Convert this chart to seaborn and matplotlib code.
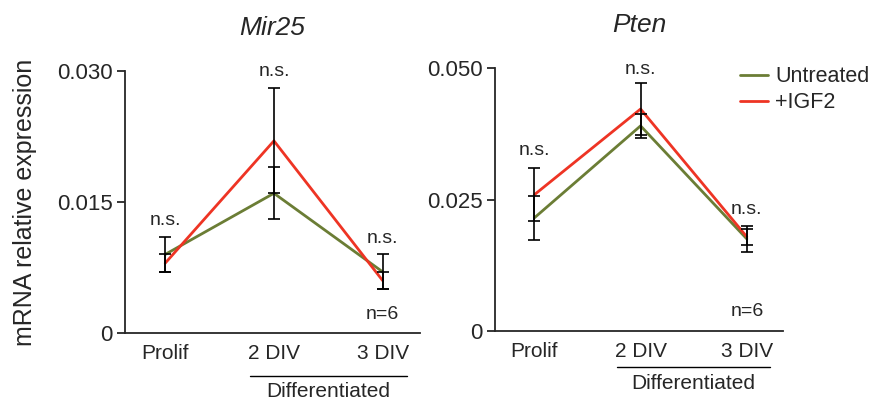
import matplotlib
matplotlib.use('Agg')
import matplotlib.pyplot as plt
import seaborn as sns
import numpy as np
import pandas as pd
from matplotlib.lines import Line2D

# data
stages = ['Prolif', '2 DIV', '3 DIV']
groups = ['Untreated', '+IGF2']

mir25_untreated = [0.0090, 0.0160, 0.0070]
mir25_untreated_err = [0.0020, 0.0030, 0.0020]
mir25_igf2 = [0.0080, 0.0220, 0.0060]
mir25_igf2_err = [0.0010, 0.0060, 0.0010]

pten_untreated = [0.0215, 0.0390, 0.0175]
pten_untreated_err = [0.0042, 0.0023, 0.0024]
pten_igf2 = [0.0259, 0.0422, 0.0179]
pten_igf2_err = [0.0050, 0.0049, 0.0015]

mir25_ticks = [0, 0.015, 0.030]
mir25_ticklabels = ['0', '0.015', '0.030']
pten_ticks = [0, 0.025, 0.050]
pten_ticklabels = ['0', '0.025', '0.050']

colors = {'Untreated': '#6b7d35', '+IGF2': '#ee3424'}

sns.set_style('ticks')
plt.rcParams['font.family'] = ['Liberation Sans', 'DejaVu Sans']
plt.rcParams['axes.linewidth'] = 1.3


def to_long(untreated, untreated_err, igf2, igf2_err):
    rows = []
    for i, st in enumerate(stages):
        rows.append({'pos': i, 'stage': st, 'group': 'Untreated',
                     'value': untreated[i], 'err': untreated_err[i]})
        rows.append({'pos': i, 'stage': st, 'group': '+IGF2',
                     'value': igf2[i], 'err': igf2_err[i]})
    return pd.DataFrame(rows)


def draw_panel(ax, df, title, ticks, ticklabels, ymax, ns_offsets):
    sns.lineplot(data=df, x='pos', y='value', hue='group', hue_order=groups,
                 palette=colors, linewidth=2.0, legend=False, ax=ax, zorder=2)
    for g in groups:
        sub = df[df['group'] == g]
        ax.errorbar(sub['pos'], sub['value'], yerr=sub['err'], fmt='none',
                    ecolor='black', elinewidth=1.2, capsize=4, capthick=1.2, zorder=3)

    # n.s. above the highest cap at each stage
    tops = df.assign(top=df['value'] + df['err']).groupby('pos')['top'].max()
    for pos, top in tops.items():
        ax.annotate('n.s.', (pos, top), xytext=(0, ns_offsets[pos]),
                    textcoords='offset points', ha='center', va='bottom', fontsize=14)

    ax.set_xlim(-0.37, 2.34)
    ax.set_ylim(0, ymax)
    ax.set_yticks(ticks)
    ax.set_yticklabels(ticklabels, fontsize=16)
    ax.set_xticks(range(len(stages)))
    ax.set_xticklabels(stages, fontsize=15)
    ax.tick_params(axis='x', length=0, pad=8)
    ax.tick_params(axis='y', length=6, width=1.3, pad=3)
    ax.set_xlabel('')
    ax.set_ylabel('')
    ax.set_title(title, fontsize=19, style='italic', pad=26)
    sns.despine(ax=ax)
    ax.text(2, 0.04, 'n=6', transform=ax.get_xaxis_transform(),
            ha='center', va='bottom', fontsize=14)


fig = plt.figure(figsize=(8.77, 4.0), dpi=100)
ax1 = fig.add_axes([0.1425, 0.1675, 0.336, 0.655])
ax2 = fig.add_axes([0.5644, 0.1725, 0.3284, 0.6575])

mir25 = to_long(mir25_untreated, mir25_untreated_err, mir25_igf2, mir25_igf2_err)
pten = to_long(pten_untreated, pten_untreated_err, pten_igf2, pten_igf2_err)

draw_panel(ax1, mir25, 'Mir25', mir25_ticks, mir25_ticklabels, 0.030, [6, 6, 5])
draw_panel(ax2, pten, 'Pten', pten_ticks, pten_ticklabels, 0.050, [7, 4, 6])

ax1.set_ylabel('mRNA relative expression', fontsize=18, labelpad=14)

# "Differentiated" brackets under 2 DIV and 3 DIV
for ax, yline, ytext in [(ax1, -0.165, -0.225), (ax2, -0.137, -0.20)]:
    tr = ax.get_xaxis_transform()
    ax.plot([0.78, 2.22], [yline, yline], color='black', lw=1.0,
            transform=tr, clip_on=False)
    ax.text(1.5, ytext, 'Differentiated', transform=tr, ha='center',
            va='center', fontsize=15)

handles = [Line2D([0], [0], color=colors[g], lw=2.0) for g in groups]
ax2.legend(handles, groups, loc='upper left', bbox_to_anchor=(0.82, 1.04),
           frameon=False, fontsize=15.5, handlelength=1.3, handletextpad=0.35,
           labelspacing=0.25, borderaxespad=0)

fig.savefig('out.png', dpi=100)
